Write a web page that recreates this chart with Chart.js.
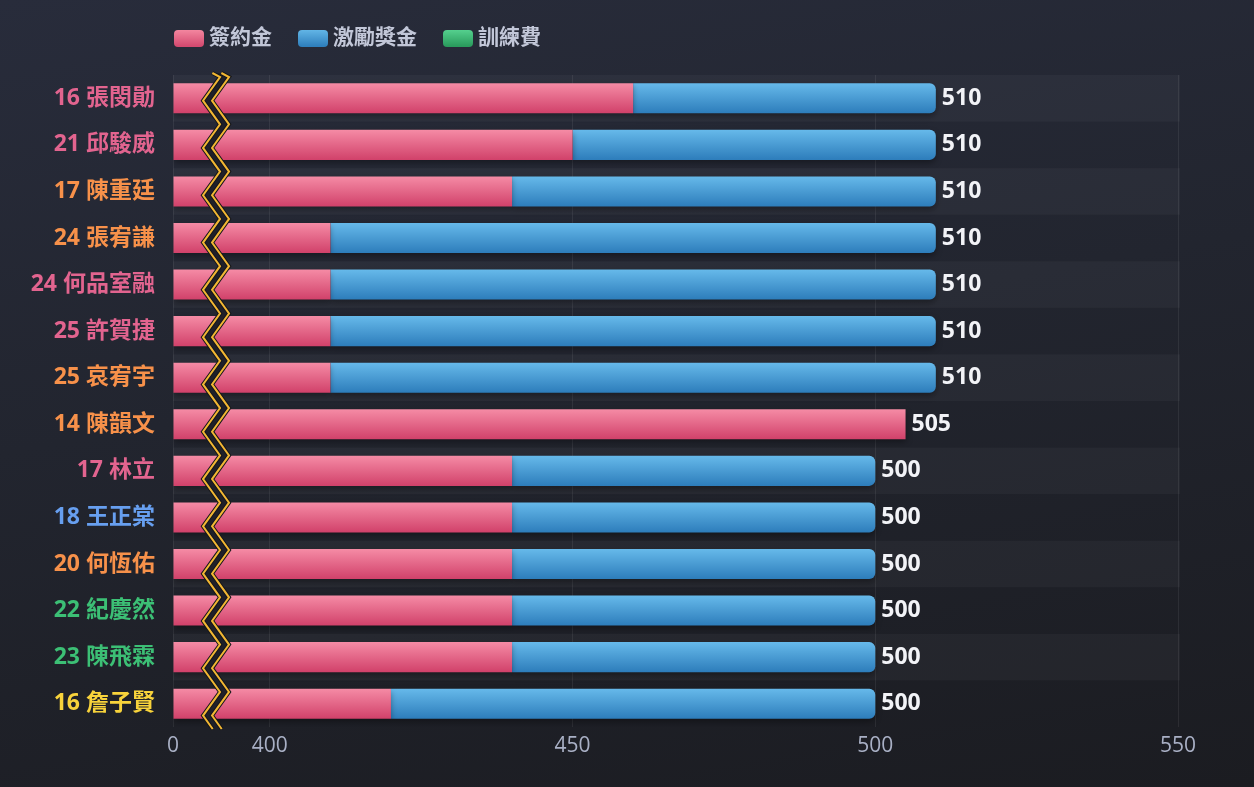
<!DOCTYPE html>
<html>
<head>
<meta charset="utf-8">
<script src="https://cdn.jsdelivr.net/npm/chart.js@4.4.1/dist/chart.umd.min.js"></script>
<style>
  html, body { margin: 0; padding: 0; }
  body {
    width: 1254px; height: 787px; overflow: hidden;
    background: linear-gradient(170deg, #282c3b 0%, #22252f 45%, #1b1c21 100%);
  }
  #wrap { position: relative; width: 1254px; height: 787px; }
</style>
</head>
<body>
<div id="wrap"><canvas id="c"></canvas></div>
<script>
// ---- data ----
const categories = ["16 張閔勛", "21 邱駿威", "17 陳重廷", "24 張宥謙", "24 何品室融", "25 許賀捷", "25 哀宥宇",
  "14 陳韻文", "17 林立", "18 王正棠", "20 何恆佑", "22 紀慶然", "23 陳飛霖", "16 詹子賢"];
const seriesNames = ["簽約金", "激勵獎金", "訓練費"];
const signingBonus = [460, 450, 440, 410, 410, 410, 410, 505, 440, 440, 440, 440, 440, 420];
const incentiveBonus = [50, 60, 70, 100, 100, 100, 100, 0, 60, 60, 60, 60, 60, 80];
const trainingFee = [0, 0, 0, 0, 0, 0, 0, 0, 0, 0, 0, 0, 0, 0];
const xTickValues = [0, 400, 450, 500, 550];
const axisBreakAt = 400;
const labelColors = ["#e2648f", "#e2648f", "#f7914a", "#f7914a", "#e2648f", "#e2648f", "#f7914a",
  "#f7914a", "#e2648f", "#679ff0", "#f7914a", "#3cbf75", "#3cbf75", "#f8d33b"];

// ---- styles ----
const FONT = '"Open Sans", "Noto Sans CJK TC", sans-serif';
const COMPRESSED = 16; // scale units given to the 0..400 segment
const palette = [
  { top: "#f58ba5", bottom: "#d1416a", legendTop: "#f3869f", legendBottom: "#d44a70" },
  { top: "#66b9ea", bottom: "#2d7dbb", legendTop: "#62b5e6", legendBottom: "#2f80bd" },
  { top: "#55d08e", bottom: "#2a9c5d", legendTop: "#55d08e", legendBottom: "#2a9c5d" }
];

// ---- broken linear scale ----
class BrokenLinearScale extends Chart.LinearScale {
  _t(v) { return v <= axisBreakAt ? v / axisBreakAt * COMPRESSED : COMPRESSED + (v - axisBreakAt); }
  _inv(t) { return t <= COMPRESSED ? t / COMPRESSED * axisBreakAt : axisBreakAt + (t - COMPRESSED); }
  getPixelForValue(v) {
    const a = this._t(this.min), b = this._t(this.max);
    return this.getPixelForDecimal((this._t(v) - a) / (b - a));
  }
  getValueForPixel(p) {
    const a = this._t(this.min), b = this._t(this.max);
    return this._inv(a + this.getDecimalForPixel(p) * (b - a));
  }
  buildTicks() { return xTickValues.map(v => ({ value: v })); }
}
BrokenLinearScale.id = 'brokenLinear';
BrokenLinearScale.defaults = { ticks: { callback: v => String(v) } };
Chart.register(BrokenLinearScale);

function barGradient(ctx, i) {
  const chart = ctx.chart;
  const p = palette[i];
  if (!chart.chartArea || !chart.scales.y) return p.bottom;
  const y = chart.scales.y.getPixelForValue(ctx.dataIndex);
  const g = chart.ctx.createLinearGradient(0, y - 15, 0, y + 15);
  g.addColorStop(0, p.top);
  g.addColorStop(1, p.bottom);
  return g;
}

const seriesData = [signingBonus, incentiveBonus, trainingFee];
const datasets = seriesData.map((d, i) => ({
  label: seriesNames[i],
  data: d,
  backgroundColor: ctx => barGradient(ctx, i),
  borderWidth: 0,
  borderRadius: i === 0 ? 0 : 6,
  borderSkipped: 'start',
  categoryPercentage: 1,
  barPercentage: 0.645
}));

const decor = {
  id: 'decor',
  beforeDraw(chart) {
    const { ctx, chartArea } = chart;
    const n = categories.length;
    const h = (chartArea.bottom - chartArea.top) / n;
    ctx.save();
    for (let i = 0; i < n; i += 2) {
      ctx.fillStyle = 'rgba(255,255,255,0.035)';
      ctx.fillRect(chartArea.left, chartArea.top + i * h, chartArea.right - chartArea.left + 2, h);
    }
    ctx.restore();
  },
  beforeDatasetsDraw(chart) {
    const ctx = chart.ctx;
    ctx.save();
    ctx.shadowColor = 'rgba(0,0,0,0.35)';
    ctx.shadowBlur = 6;
    ctx.shadowOffsetY = 3;
  },
  afterDatasetsDraw(chart) {
    const { ctx, chartArea } = chart;
    ctx.restore();
    const xs = chart.scales.x, ys = chart.scales.y;
    // zigzag break
    const x0 = xs.getPixelForValue(0), x1 = xs.getPixelForValue(axisBreakAt);
    const xl = x0 + 0.31 * (x1 - x0);
    const amp = 17, off = 9, period = 47.3;
    const top = chartArea.top - 2, bottom = chartArea.bottom + 2;
    const pts = [];
    pts.push([xl + amp * 0.55, top]);
    let yv = top + 4;
    let right = true;
    while (yv < bottom) {
      pts.push([right ? xl + amp : xl, yv]);
      yv += period / 2;
      right = !right;
    }
    const last = pts[pts.length - 1];
    const frac = (bottom - last[1]) / (period / 2);
    const nx = right ? xl + amp : xl;
    pts.push([last[0] + (nx - last[0]) * frac, bottom]);

    ctx.save();
    ctx.beginPath();
    pts.forEach((p, i) => i ? ctx.lineTo(p[0], p[1]) : ctx.moveTo(p[0], p[1]));
    for (let i = pts.length - 1; i >= 0; i--) ctx.lineTo(pts[i][0] + off, pts[i][1]);
    ctx.closePath();
    ctx.fillStyle = '#1f2029';
    ctx.fill();
    const stroke = (dx, w, c) => {
      ctx.beginPath();
      pts.forEach((p, i) => i ? ctx.lineTo(p[0] + dx, p[1]) : ctx.moveTo(p[0] + dx, p[1]));
      ctx.lineWidth = w; ctx.strokeStyle = c; ctx.lineJoin = 'miter'; ctx.stroke();
    };
    [0, off].forEach(dx => { stroke(dx, 4, '#15161b'); stroke(dx, 2, '#f2b733'); });
    ctx.restore();

    // value labels
    ctx.save();
    ctx.font = 'bold 23px ' + FONT;
    ctx.fillStyle = '#f2f3f7';
    ctx.textAlign = 'left';
    ctx.textBaseline = 'middle';
    categories.forEach((c, i) => {
      const total = signingBonus[i] + incentiveBonus[i] + trainingFee[i];
      ctx.fillText(String(total), xs.getPixelForValue(total) + 6, ys.getPixelForValue(i));
    });
    ctx.restore();

    // legend
    ctx.save();
    let lx = chartArea.left + 1;
    const ly = 38;
    ctx.font = 'bold 21px ' + FONT;
    ctx.textBaseline = 'middle';
    seriesNames.forEach((name, i) => {
      const p = palette[i];
      const g = ctx.createLinearGradient(0, ly - 8, 0, ly + 8);
      g.addColorStop(0, p.legendTop); g.addColorStop(1, p.legendBottom);
      ctx.fillStyle = g;
      ctx.beginPath();
      ctx.roundRect(lx, ly - 8, 30, 17, 4);
      ctx.fill();
      ctx.fillStyle = '#c2c7d8';
      ctx.fillText(name, lx + 35, ly);
      lx += 35 + ctx.measureText(name).width + 26;
    });
    ctx.restore();
  }
};

new Chart(document.getElementById('c'), {
  type: 'bar',
  data: { labels: categories, datasets },
  options: {
    indexAxis: 'y',
    responsive: true,
    maintainAspectRatio: false,
    animation: false,
    layout: { padding: { top: 75, right: 76, bottom: 0, left: 0 } },
    plugins: { legend: { display: false }, tooltip: { enabled: false } },
    scales: {
      x: {
        type: 'brokenLinear',
        stacked: true,
        min: 0, max: 550,
        afterFit: s => { s.height = 60; },
        grid: { color: 'rgba(255,255,255,0.07)', drawTicks: false, lineWidth: 1 },
        border: { display: false },
        ticks: { color: '#a9b0c5', padding: 6, font: { family: FONT, size: 21 }, callback: v => String(v), autoSkip: false, maxRotation: 0 }
      },
      y: {
        stacked: true,
        afterFit: s => { s.width = 173; },
        grid: { display: false, drawTicks: false },
        border: { display: false },
        ticks: {
          padding: 18,
          color: ctx => labelColors[ctx.index],
          font: { family: FONT, size: 23, weight: 'bold' }
        }
      }
    }
  },
  plugins: [decor]
});
</script>
</body>
</html>
